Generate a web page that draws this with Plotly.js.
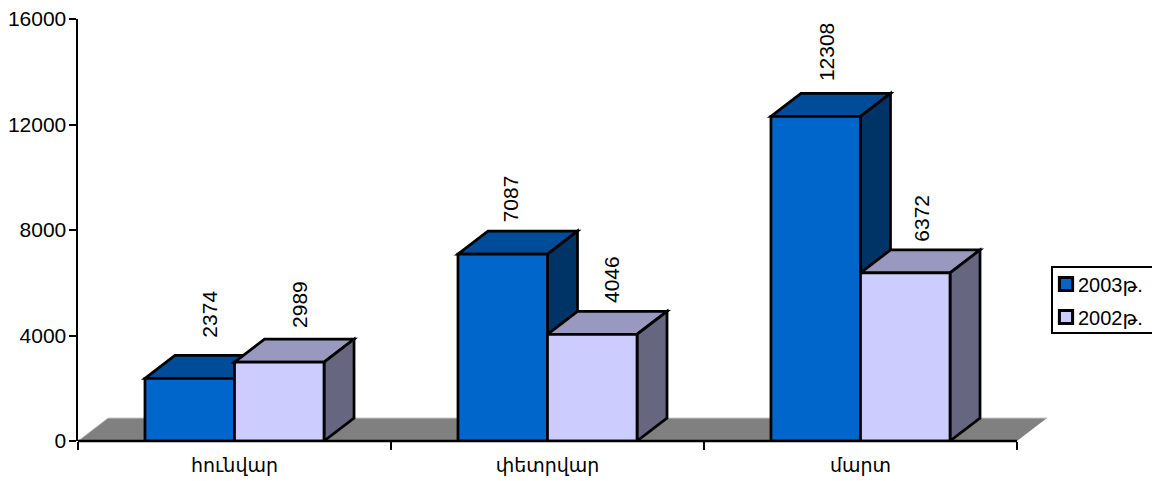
<!DOCTYPE html>
<html><head><meta charset="utf-8">
<script src="https://cdn.plot.ly/plotly-3.0.1.min.js"></script>
<style>html,body{margin:0;padding:0;background:#fff;overflow:hidden}</style>
</head><body><div id="chart" style="width:1152px;height:481px"></div>
<script>
const categories = ["հունվար", "փետրվար", "մարտ"];
const series2003 = [2374, 7087, 12308];
const series2002 = [2989, 4046, 6372];
const seriesNames = ["2003թ.", "2002թ."];
const yTicks = [0, 4000, 8000, 12000, 16000];

const W = 1152, H = 481, mL = 78, mR = 105, mT = 19, mB = 40;
const FONT = '"Liberation Sans", Arial, "DejaVu Sans", sans-serif';
const FS = 21;
const barW = 0.286;                 // bar width, category units
const depthX = 30 / 313;            // 3-D depth, category units
const yMax = 16000;
const depthY = 23 * yMax / 422;     // 3-D depth, value units

const styles = [
  {front: "#0066CC", top: "#004C99", side: "#003366"},
  {front: "#CCCCFF", top: "#9999BF", side: "#666680"}
];
const edge = {color: "#000", width: 2.75};

function poly(pts, fill) {
  return {type: "path", xref: "x", yref: "y", layer: "below",
    path: "M" + pts.map(p => p[0] + "," + p[1]).join("L") + "Z",
    fillcolor: fill, line: edge};
}
const shapes = [];
// floor
shapes.push({type: "path", xref: "x", yref: "y", layer: "below",
  path: `M-0.5,0L${-0.5 + depthX},${depthY}L${2.5 + depthX},${depthY}L2.5,0Z`,
  fillcolor: "#808080", line: {width: 0}});
shapes.push({type: "path", xref: "x", yref: "y", layer: "below",
  path: `M-0.5,0L${-0.5 + depthX},${depthY}L${2.5 + depthX},${depthY}`,
  line: {color: "#c8c8c8", width: 1}});
// tops and sides, far series first
[series2003, series2002].forEach((vals, s) => {
  vals.forEach((v, i) => {
    const x0 = i + (s === 0 ? -barW : 0), x1 = x0 + barW;
    shapes.push(poly([[x0, v], [x0 + depthX, v + depthY], [x1 + depthX, v + depthY], [x1, v]], styles[s].top));
    shapes.push(poly([[x1, 0], [x1 + depthX, depthY], [x1 + depthX, v + depthY], [x1, v]], styles[s].side));
  });
});
// baseline that stops at the last category, not at the floor's far corner
shapes.push({type: "line", xref: "x", yref: "paper", x0: -0.5, x1: 2.5, y0: 0, y1: 0, layer: "above",
  line: {color: "#000", width: 2.5}});

// data labels
const nudgeX = [[20, 8, 11], [20, 20, 16]];
const nudgeY = [[39, 30, 33], [32, 29, 29]];
const annotations = [];
[series2003, series2002].forEach((vals, s) => {
  vals.forEach((v, i) => {
    annotations.push({x: i + (s === 0 ? -barW / 2 : barW / 2), y: v, xref: "x", yref: "y",
      text: String(v), showarrow: false, textangle: -90, xanchor: "center", yanchor: "bottom",
      xshift: nudgeX[s][i], yshift: nudgeY[s][i], font: {family: FONT, size: FS, color: "#000"}});
  });
});

const mk = (name, vals, s) => ({type: "bar", name, x: categories, y: vals,
  marker: {color: styles[s].front, line: edge}});

Plotly.newPlot("chart", [mk(seriesNames[0], series2003, 0), mk(seriesNames[1], series2002, 1)], {
  width: W, height: H, margin: {l: mL, r: mR, t: mT, b: mB, pad: 0},
  paper_bgcolor: "#fff", plot_bgcolor: "rgba(0,0,0,0)",
  barmode: "group", bargap: 1 - 2 * barW, bargroupgap: 0,
  font: {family: FONT, size: FS, color: "#000"},
  xaxis: {type: "category", categoryorder: "array", categoryarray: categories,
    range: [-0.5, 2.5 + depthX], tickson: "boundaries", ticks: "outside", ticklen: 8, tickwidth: 2,
    tickcolor: "#000", showline: false, showgrid: false, zeroline: false, ticklabelstandoff: 11,
    tickfont: {family: FONT, size: 19}},
  yaxis: {range: [0, yMax], tickvals: yTicks, ticktext: yTicks.map(String), ticks: "outside", ticklen: 7, tickwidth: 2,
    ticklabelstandoff: -2,
    tickcolor: "#000", showline: true, linecolor: "#000", linewidth: 2.5, showgrid: false, zeroline: false,
    tickfont: {family: FONT, size: FS}},
  legend: {x: 1052 / W, y: 1 - 267 / H, xref: "paper", yref: "paper", xanchor: "left", yanchor: "top",
    bgcolor: "#fff", bordercolor: "#000", borderwidth: 2, itemwidth: 30, traceorder: "normal",
    font: {family: FONT, size: 20}},
  shapes, annotations
}, {displayModeBar: false, staticPlot: true}).then(gd => {
  // the reference's legend box runs off the right edge and is tighter than Plotly's default layout
  const leg = gd.querySelector("g.legend");
  leg.setAttribute("transform", "translate(1052,267)");
  const bg = leg.querySelector("rect.bg");
  bg.setAttribute("x", 0); bg.setAttribute("y", 0);
  bg.setAttribute("width", 120); bg.setAttribute("height", 66);
  const box = leg.querySelector(".scrollbox");
  box.removeAttribute("clip-path");
  box.setAttribute("transform", "translate(0,0)");
  leg.querySelectorAll("g.traces").forEach((t, i) => {
    t.setAttribute("transform", `translate(0,${17 + i * 33})`);
    t.querySelector(".legendtext").setAttribute("x", 26);
    const p = t.querySelector(".legendpoints path");
    p.setAttribute("transform", "translate(14,0) scale(1.1)");
  });
});
</script></body></html>
